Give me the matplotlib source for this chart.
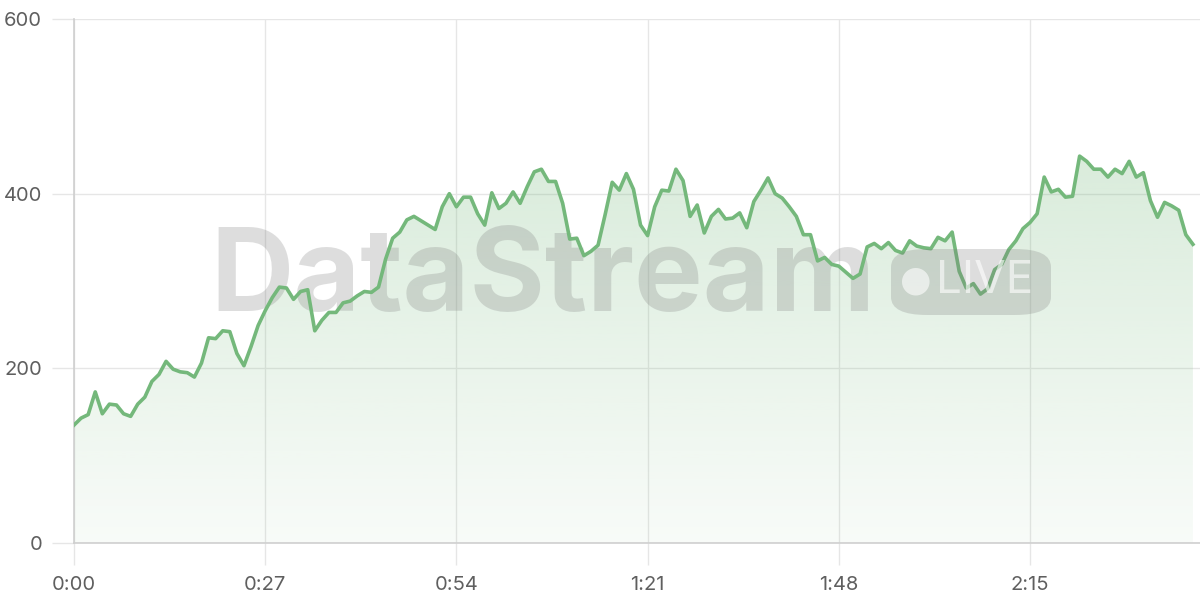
import matplotlib
matplotlib.use("Agg")
import matplotlib.pyplot as plt
import numpy as np
from matplotlib.patches import FancyBboxPatch
from matplotlib.ticker import FuncFormatter

# seconds since start (one sample per second)
values = [
    135, 143, 147, 173, 148, 159, 158, 148, 145, 159,
    167, 185, 193, 208, 199, 196, 195, 190, 206, 235,
    234, 243, 242, 217, 203, 225, 249, 266, 281, 293,
    292, 279, 288, 290, 243, 255, 264, 264, 275, 277,
    283, 288, 287, 293, 325, 349, 356, 370, 374, 369,
    364, 359, 385, 400, 385, 396, 396, 377, 364, 401,
    383, 389, 402, 389, 408, 425, 428, 414, 414, 389,
    348, 349, 329, 334, 341, 376, 413, 404, 423, 405,
    364, 352, 385, 404, 403, 428, 415, 374, 387, 355,
    374, 382, 371, 372, 378, 361, 391, 404, 418, 400,
    395, 385, 374, 353, 353, 323, 327, 319, 317, 310,
    303, 308, 339, 343, 337, 344, 335, 332, 346, 340,
    338, 337, 350, 346, 356, 311, 292, 297, 285, 291,
    313, 319, 336, 346, 360, 367, 377, 419, 402, 405,
    396, 397, 443, 437, 428, 428, 419, 428, 423, 437,
    419, 424, 392, 373, 390, 386, 381, 353, 342,
]
seconds = list(range(len(values)))
x_ticks = [0, 27, 54, 81, 108, 135]
y_ticks = [0, 200, 400, 600]

LINE = "#74b87b"
GRID = "#e6e6e6"
TEXT = "#5f5f5f"

fig = plt.figure(figsize=(12, 6), dpi=100)
ax = fig.add_axes([74 / 1200, 1 - 543 / 600, 1126 / 1200, 524 / 600])

ax.set_xlim(0, 159)
ax.set_ylim(0, 600)

# gradient fill under the line
poly = ax.fill_between(seconds, values, 0, color="none", lw=0)
grad = np.linspace(0, 1, 256).reshape(-1, 1)
rgba = np.zeros((256, 1, 4))
rgba[..., 0] = 0x74 / 255
rgba[..., 1] = 0xb8 / 255
rgba[..., 2] = 0x7b / 255
rgba[..., 3] = 0.05 + 0.22 * grad
img = ax.imshow(rgba, extent=[0, 158, 0, max(values)], origin="lower",
                aspect="auto", zorder=1)
path = poly.get_paths()[0]
img.set_clip_path(path, transform=ax.transData)

# watermark
ax.text(0.121, 0.5, "DataStream", transform=ax.transAxes, fontsize=83,
        fontweight="bold", family=["Inter", "DejaVu Sans"], color="#7a7a7a",
        alpha=0.25, ha="left", va="center", zorder=2)
badge = FancyBboxPatch((891 / 1200, 1 - 315 / 600), 160 / 1200, 66 / 600,
                       boxstyle="round,pad=0,rounding_size=0.03",
                       transform=fig.transFigure, facecolor="#7a7a7a",
                       edgecolor="none", alpha=0.25, zorder=2)
fig.patches.append(badge)
fig.text(916 / 1200, 1 - 281 / 600, "\u25CF", fontsize=26, color="white",
         alpha=0.6, ha="center", va="center", zorder=3)
fig.text(985 / 1200, 1 - 281 / 600, "LIVE", fontsize=33,
         family=["Inter", "DejaVu Sans"], color="white", alpha=0.6,
         ha="center", va="center", zorder=3)

ax.plot(seconds, values, color=LINE, lw=2.6, zorder=4, solid_joinstyle="round")

ax.set_xticks(x_ticks)
ax.set_yticks(y_ticks)
ax.xaxis.set_major_formatter(FuncFormatter(lambda v, p: f"{int(v)//60}:{int(v)%60:02d}"))
ax.grid(True, color=GRID, lw=1, zorder=0)
ax.set_axisbelow(True)
for s in ["top", "right"]:
    ax.spines[s].set_visible(False)
for s in ["left", "bottom"]:
    ax.spines[s].set_color("#cfcfcf")
    ax.spines[s].set_linewidth(1.2)
ax.tick_params(axis="both", length=16, color=GRID, width=1, labelsize=14.5,
               labelcolor=TEXT)
ax.tick_params(axis="x", pad=8)
ax.tick_params(axis="y", pad=7)
for lab in ax.get_xticklabels() + ax.get_yticklabels():
    lab.set_family(["Inter", "DejaVu Sans"])

fig.savefig("out.png", dpi=100, facecolor="white")
